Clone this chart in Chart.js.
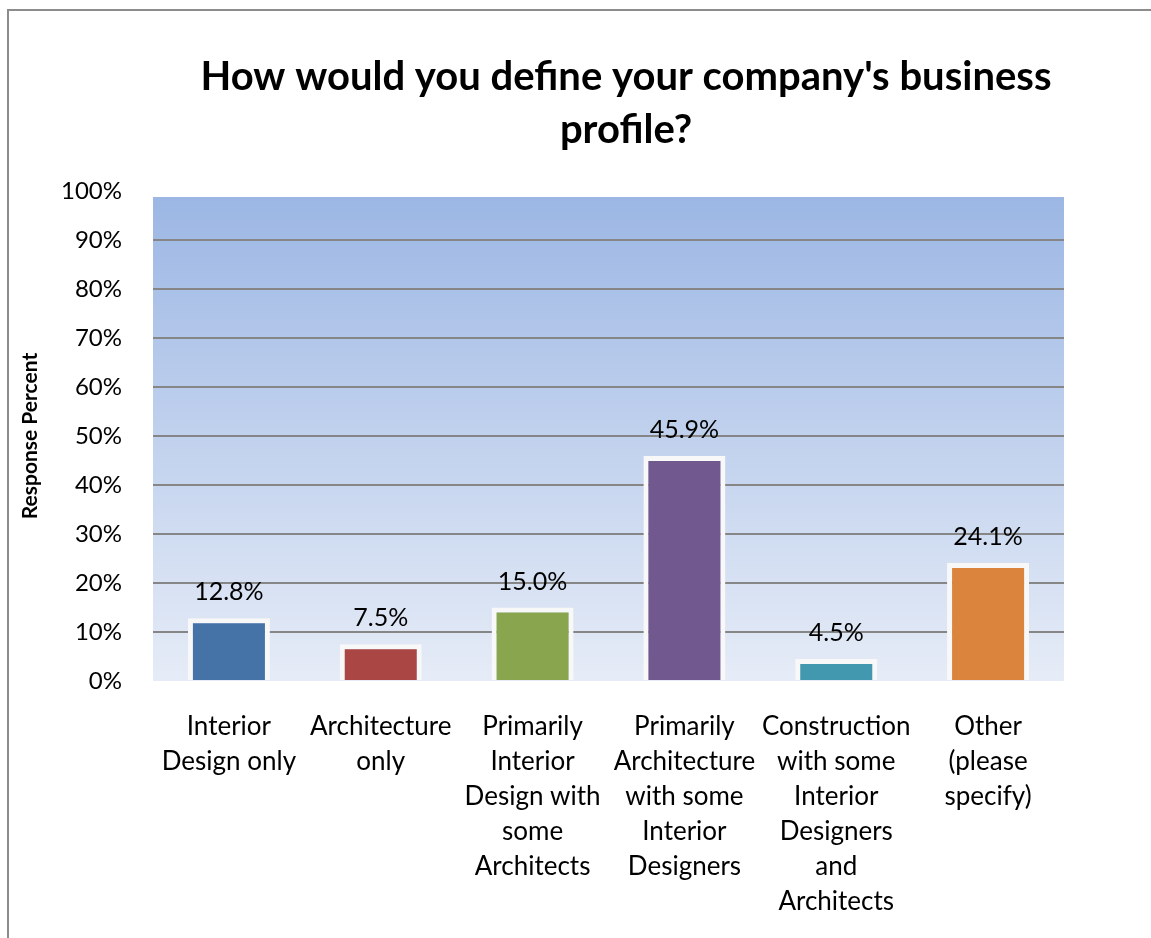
<!DOCTYPE html>
<html>
<head>
  <title>Business Profile</title>
  <script src="https://cdn.jsdelivr.net/npm/chart.js"></script>
  <style>
    body { margin: 0; background: #fff; }
    #wrap { width: 1151px; height: 938px; }
  </style>
</head>
<body>
  <div id="wrap"><canvas id="myChart"></canvas></div>

  <script>
    // Data
    const categories = [
      ['Interior', 'Design only'],
      ['Architecture', 'only'],
      ['Primarily', 'Interior', 'Design with', 'some', 'Architects'],
      ['Primarily', 'Architecture', 'with some', 'Interior', 'Designers'],
      ['Construction', 'with some', 'Interior', 'Designers', 'and', 'Architects'],
      ['Other', '(please', 'specify)']
    ];
    const responsePercent = [12.8, 7.5, 15.0, 45.9, 4.5, 24.1];
    const barColors = ['#4572a7', '#aa4643', '#89a54e', '#71588f', '#4198af', '#db843d'];
    const titleLines = ["How would you define your company's business", 'profile?'];
    const yTicks = [0, 10, 20, 30, 40, 50, 60, 70, 80, 90, 100];

    const FONT = 'Lato, "Open Sans", sans-serif';

    // gradient plot background + outer frame + title
    const decorPlugin = {
      id: 'decor',
      beforeDraw(chart) {
        const { ctx, chartArea: a } = chart;
        ctx.save();
        const top = a.top + 6;
        const g = ctx.createLinearGradient(0, top, 0, a.bottom);
        g.addColorStop(0, '#9cb7e4');
        g.addColorStop(1, '#e6ecf7');
        ctx.fillStyle = g;
        ctx.fillRect(a.left, top, a.right - a.left, a.bottom - top);

        ctx.strokeStyle = '#8c8c8c';
        ctx.lineWidth = 2;
        ctx.beginPath();
        ctx.moveTo(8, chart.height);
        ctx.lineTo(8, 10);
        ctx.lineTo(chart.width, 10);
        ctx.stroke();

        ctx.fillStyle = '#000';
        ctx.font = 'bold 40px ' + FONT;
        ctx.textAlign = 'center';
        ctx.textBaseline = 'middle';
        titleLines.forEach((t, i) => ctx.fillText(t, 626, 77 + i * 53));
        ctx.restore();
      }
    };

    // value labels above bars
    const labelPlugin = {
      id: 'valueLabels',
      afterDatasetsDraw(chart) {
        const { ctx } = chart;
        const meta = chart.getDatasetMeta(0);
        ctx.save();
        ctx.fillStyle = '#000';
        ctx.font = '25px ' + FONT;
        ctx.textAlign = 'center';
        ctx.textBaseline = 'middle';
        meta.data.forEach((bar, i) => {
          ctx.fillText(responsePercent[i].toFixed(1) + '%', bar.x, bar.y - 26);
        });
        ctx.restore();
      }
    };

    const ctx = document.getElementById('myChart').getContext('2d');
    new Chart(ctx, {
      type: 'bar',
      data: {
        labels: categories,
        datasets: [{
          data: responsePercent,
          backgroundColor: barColors,
          borderColor: '#f8f8f8',
          borderWidth: 5,
          barPercentage: 0.54,
          categoryPercentage: 1
        }]
      },
      options: {
        responsive: true,
        maintainAspectRatio: false,
        animation: false,
        layout: { padding: { left: 8, right: 87, top: 191, bottom: 0 } },
        plugins: {
          legend: { display: false },
          tooltip: { enabled: false }
        },
        scales: {
          x: {
            grid: { display: false, drawTicks: false },
            border: { display: false },
            ticks: {
              color: '#000',
              font: { family: FONT, size: 26, lineHeight: 1.35 },
              padding: 28,
              maxRotation: 0,
              autoSkip: false
            },
            afterFit(scale) { scale.height = 257; }
          },
          y: {
            min: 0,
            max: 100,
            afterBuildTicks(scale) { scale.ticks = yTicks.map(v => ({ value: v })); },
            grid: {
              color: c => (c.tick.value === 0 || c.tick.value === 100) ? 'rgba(0,0,0,0)' : '#868686',
              lineWidth: 2,
              drawTicks: false
            },
            border: { display: false },
            ticks: {
              color: '#000',
              font: { family: FONT, size: 24 },
              padding: 31,
              callback: v => v + '%'
            },
            title: {
              display: true,
              text: 'Response Percent',
              color: '#000',
              font: { family: FONT, size: 21, weight: 'bold' },
              padding: { top: 10, bottom: 0 }
            },
            afterFit(scale) { scale.width = 145; }
          }
        }
      },
      plugins: [decorPlugin, labelPlugin]
    });
  </script>
</body>
</html>
